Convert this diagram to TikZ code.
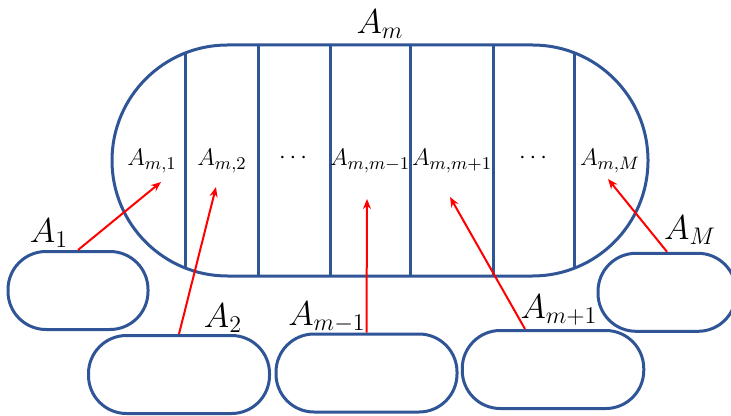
\documentclass[tikz,border=0pt]{standalone}
\usetikzlibrary{arrows.meta}
\definecolor{setBlue}{HTML}{2F5597}
\definecolor{linkRed}{HTML}{FF0000}

\begin{document}
\begin{tikzpicture}[x=0.5pt, y=-0.5pt,
  part/.style={draw=setBlue, line width=1.5pt, rounded corners=19pt, minimum height=39pt, inner sep=0pt},
  link/.style={draw=linkRed, line width=1pt, -{Stealth[length=5pt, width=4pt]}},
  setlbl/.style={font=\fontsize{17}{19}\selectfont, inner sep=1pt},
  sublbl/.style={font=\fontsize{12.5}{14}\selectfont, inner sep=1pt}]
\useasboundingbox (0,0) rectangle (731,416);
% the combined set and its columns
\node[part, minimum width=268pt, minimum height=115.5pt, rounded corners=57.75pt] (whole) at (380,160.5) {};
\foreach \x/\t/\b in {185/53/268, 258/45/276, 330/45/276, 410/45/276, 493/45/276, 574/53/268}
  \draw[setBlue, line width=1.5pt] (\x,\t) -- (\x,\b);
\foreach \n/\x/\y/\s in {c1/152/161/{$A_{m,1}$}, c2/222/161/{$A_{m,2}$}, d1/293/158/{$\cdots$}, cp/370/161/{$A_{m,m-1}$}, cn/452/161/{$A_{m,m+1}$}, d2/533/158/{$\cdots$}, cM/610/161/{$A_{m,M}$}}
  \node[sublbl] (\n) at (\x,\y) {\s};
\node[setlbl] (lm) at (380,24) {$A_m$};
% the single sets
\node[part, minimum width=70pt] (s1) at (78,290.5) {};
\node[part, minimum width=90.5pt] (s2) at (179,374.5) {};
\node[part, minimum width=90.5pt] (sp) at (366.5,373) {};
\node[part, minimum width=90.75pt] (sn) at (553,369.5) {};
\node[part, minimum width=69pt] (sM) at (667,292.3) {};
\foreach \n/\x/\y/\s in {l1/49/233/{$A_1$}, l2/223/318/{$A_2$}, lp/327/317/{$A_{m-1}$}, ln/559/310/{$A_{m+1}$}, lM/690/230/{$A_M$}}
  \node[setlbl] (\n) at (\x,\y) {\s};
% arrows into the columns
\coordinate (t1) at (161,182);
\coordinate (t2) at (216,187);
\coordinate (tp) at (367,199);
\coordinate (tn) at (450,197);
\coordinate (tM) at (608,179);
\draw[link] (s1.north) -- (t1);
\draw[link] (s2.north) -- (t2);
\draw[link] (sp.north) -- (tp);
\draw[link] ([xshift=-14pt]sn.north) -- (tn);
\draw[link] (sM.north) -- (tM);
\end{tikzpicture}
\end{document}
